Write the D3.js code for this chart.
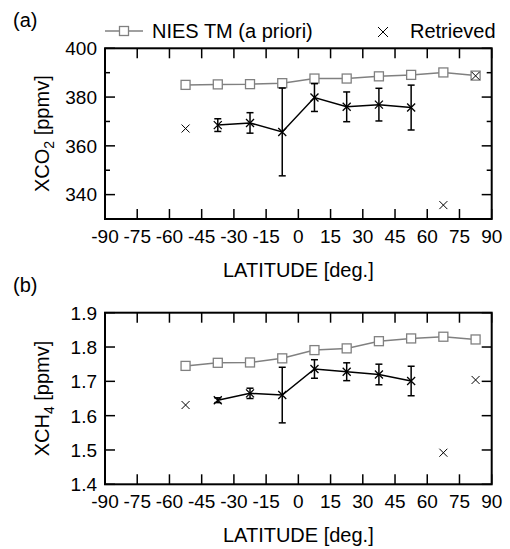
<!DOCTYPE html>
<html>
<head>
<meta charset="utf-8" />
<title>XCO2 / XCH4 vs latitude</title>
<script src="https://cdn.jsdelivr.net/npm/d3@7"></script>
<style>
    body { margin: 0; background: #fff; }
    svg text { font-family: "Liberation Sans", Arial, sans-serif; fill: #000; }
</style>
</head>
<body>
<div id="chart"></div>
<script>
    // latitude bin centres
    var latitudes = [-52.5, -37.5, -22.5, -7.5, 7.5, 22.5, 37.5, 52.5, 67.5, 82.5]
    var xTicks = [-90, -75, -60, -45, -30, -15, 0, 15, 30, 45, 60, 75, 90]

    // (a) XCO2
    var co2Prior = [385.0, 385.2, 385.3, 385.7, 387.6, 387.6, 388.5, 389.1, 390.1, 388.8]
    var co2Retrieved = [367.1, 368.5, 369.4, 365.7, 379.8, 376.0, 376.9, 375.7, 335.7, 388.7]
    var co2Error = [null, 2.6, 4.2, 18.0, 5.7, 6.1, 6.7, 9.2, null, null]
    var co2Ticks = [340, 360, 380, 400]

    // (b) XCH4
    var ch4Prior = [1.745, 1.754, 1.755, 1.767, 1.791, 1.796, 1.817, 1.825, 1.830, 1.822]
    var ch4Retrieved = [1.631, 1.645, 1.665, 1.660, 1.736, 1.728, 1.720, 1.701, 1.492, 1.704]
    var ch4Error = [null, 0.007, 0.015, 0.081, 0.027, 0.026, 0.030, 0.043, null, null]
    var ch4Ticks = [1.4, 1.5, 1.6, 1.7, 1.8, 1.9]

    var W = 510, H = 549
    var svg = d3.select("#chart").append("svg")
        .attr("width", W).attr("height", H)
    svg.append("rect").attr("width", W).attr("height", H).attr("fill", "#fff")

    var left = 105, right = 491.7
    var xScale = d3.scaleLinear().domain([-90, 90]).range([left, right])

    function drawPanel(p) {
        var y = d3.scaleLinear().domain(p.domain).range([p.bottom, p.top])
        var g = svg.append("g")

        // minor ticks (short, inward, both sides)
        p.minor.forEach(function(v) {
            g.append("line").attr("x1", left).attr("x2", left + 5)
                .attr("y1", y(v)).attr("y2", y(v)).attr("stroke", "#000").attr("stroke-width", 1.5)
            g.append("line").attr("x1", right).attr("x2", right - 5)
                .attr("y1", y(v)).attr("y2", y(v)).attr("stroke", "#000").attr("stroke-width", 1.5)
        })
        // major y ticks + labels
        p.ticks.forEach(function(v) {
            g.append("line").attr("x1", left).attr("x2", left + 10)
                .attr("y1", y(v)).attr("y2", y(v)).attr("stroke", "#000").attr("stroke-width", 1.5)
            g.append("line").attr("x1", right).attr("x2", right - 10)
                .attr("y1", y(v)).attr("y2", y(v)).attr("stroke", "#000").attr("stroke-width", 1.5)
            g.append("text").attr("x", left - 8).attr("y", y(v)).attr("dy", "0.36em")
                .attr("text-anchor", "end").attr("font-size", 19).text(p.fmt(v))
        })
        // x ticks top and bottom + labels
        xTicks.forEach(function(v) {
            g.append("line").attr("x1", xScale(v)).attr("x2", xScale(v))
                .attr("y1", p.top).attr("y2", p.top + 10).attr("stroke", "#000").attr("stroke-width", 1.5)
            g.append("line").attr("x1", xScale(v)).attr("x2", xScale(v))
                .attr("y1", p.bottom).attr("y2", p.bottom - 10).attr("stroke", "#000").attr("stroke-width", 1.5)
            g.append("text").attr("x", xScale(v)).attr("y", p.bottom + 24)
                .attr("text-anchor", "middle").attr("font-size", 19).text(v)
        })
        // frame
        g.append("rect").attr("x", left).attr("y", p.top)
            .attr("width", right - left).attr("height", p.bottom - p.top)
            .attr("fill", "none").attr("stroke", "#000").attr("stroke-width", 2)

        // a priori line + squares
        var prior = latitudes.map(function(d, i) { return [d, p.prior[i]] })
        g.append("path").datum(prior)
            .attr("d", d3.line().x(function(d) { return xScale(d[0]) }).y(function(d) { return y(d[1]) }))
            .attr("fill", "none").attr("stroke", "#808080").attr("stroke-width", 1.5)
        g.selectAll(null).data(prior).enter().append("rect")
            .attr("x", function(d) { return xScale(d[0]) - 4.5 })
            .attr("y", function(d) { return y(d[1]) - 4.5 })
            .attr("width", 9).attr("height", 9)
            .attr("fill", "#fff").attr("stroke", "#808080").attr("stroke-width", 1.3)

        // retrieved
        var ret = latitudes.map(function(d, i) { return [d, p.ret[i], p.err[i]] })
        var linked = ret.filter(function(d) { return d[2] !== null })
        g.append("path").datum(linked)
            .attr("d", d3.line().x(function(d) { return xScale(d[0]) }).y(function(d) { return y(d[1]) }))
            .attr("fill", "none").attr("stroke", "#000").attr("stroke-width", 1.5)
        linked.forEach(function(d) {
            var cx = xScale(d[0])
            g.append("line").attr("x1", cx).attr("x2", cx)
                .attr("y1", y(d[1] - d[2])).attr("y2", y(d[1] + d[2]))
                .attr("stroke", "#000").attr("stroke-width", 1.5)
            ;[d[1] - d[2], d[1] + d[2]].forEach(function(v) {
                g.append("line").attr("x1", cx - 3.5).attr("x2", cx + 3.5)
                    .attr("y1", y(v)).attr("y2", y(v)).attr("stroke", "#000").attr("stroke-width", 1.5)
            })
        })
        ret.forEach(function(d) {
            var cx = xScale(d[0]), cy = y(d[1]), s = 4
            g.append("path")
                .attr("d", "M" + (cx - s) + "," + (cy - s) + "L" + (cx + s) + "," + (cy + s) +
                    "M" + (cx - s) + "," + (cy + s) + "L" + (cx + s) + "," + (cy - s))
                .attr("stroke", "#000").attr("stroke-width", d[2] === null ? 1 : 1.3)
        })

        // axis titles
        g.append("text").attr("x", (left + right) / 2).attr("y", p.bottom + 58)
            .attr("text-anchor", "middle").attr("font-size", 20).text("LATITUDE [deg.]")
        var yt = g.append("text")
            .attr("transform", "translate(49," + ((p.top + p.bottom) / 2) + ") rotate(-90)")
            .attr("text-anchor", "middle").attr("font-size", 20)
        yt.append("tspan").text(p.title[0])
        yt.append("tspan").attr("font-size", 14).attr("dy", 5).text(p.title[1])
        yt.append("tspan").attr("dy", -5).text(" [ppmv]")
        g.append("text").attr("x", 13).attr("y", p.top - 21).attr("font-size", 20).text(p.label)
    }

    drawPanel({
        top: 48.3, bottom: 219, domain: [330, 400],
        ticks: co2Ticks, minor: [350, 370, 390],
        fmt: d3.format("d"),
        prior: co2Prior, ret: co2Retrieved, err: co2Error,
        title: ["XCO", "2"], label: "(a)"
    })
    drawPanel({
        top: 312.7, bottom: 484.3, domain: [1.4, 1.9],
        ticks: ch4Ticks, minor: [],
        fmt: d3.format(".1f"),
        prior: ch4Prior, ret: ch4Retrieved, err: ch4Error,
        title: ["XCH", "4"], label: "(b)"
    })

    // legend
    var lg = svg.append("g")
    lg.append("line").attr("x1", 105).attr("x2", 143).attr("y1", 31).attr("y2", 31)
        .attr("stroke", "#808080").attr("stroke-width", 1.5)
    lg.append("rect").attr("x", 119.5).attr("y", 26.5).attr("width", 9).attr("height", 9)
        .attr("fill", "#fff").attr("stroke", "#808080").attr("stroke-width", 1.3)
    lg.append("text").attr("x", 152).attr("y", 38).attr("font-size", 20).text("NIES TM (a priori)")
    lg.append("path").attr("d", "M378,27L388,37M378,37L388,27")
        .attr("stroke", "#000").attr("stroke-width", 1)
    lg.append("text").attr("x", 410).attr("y", 38).attr("font-size", 20).text("Retrieved")
</script>
</body>
</html>
